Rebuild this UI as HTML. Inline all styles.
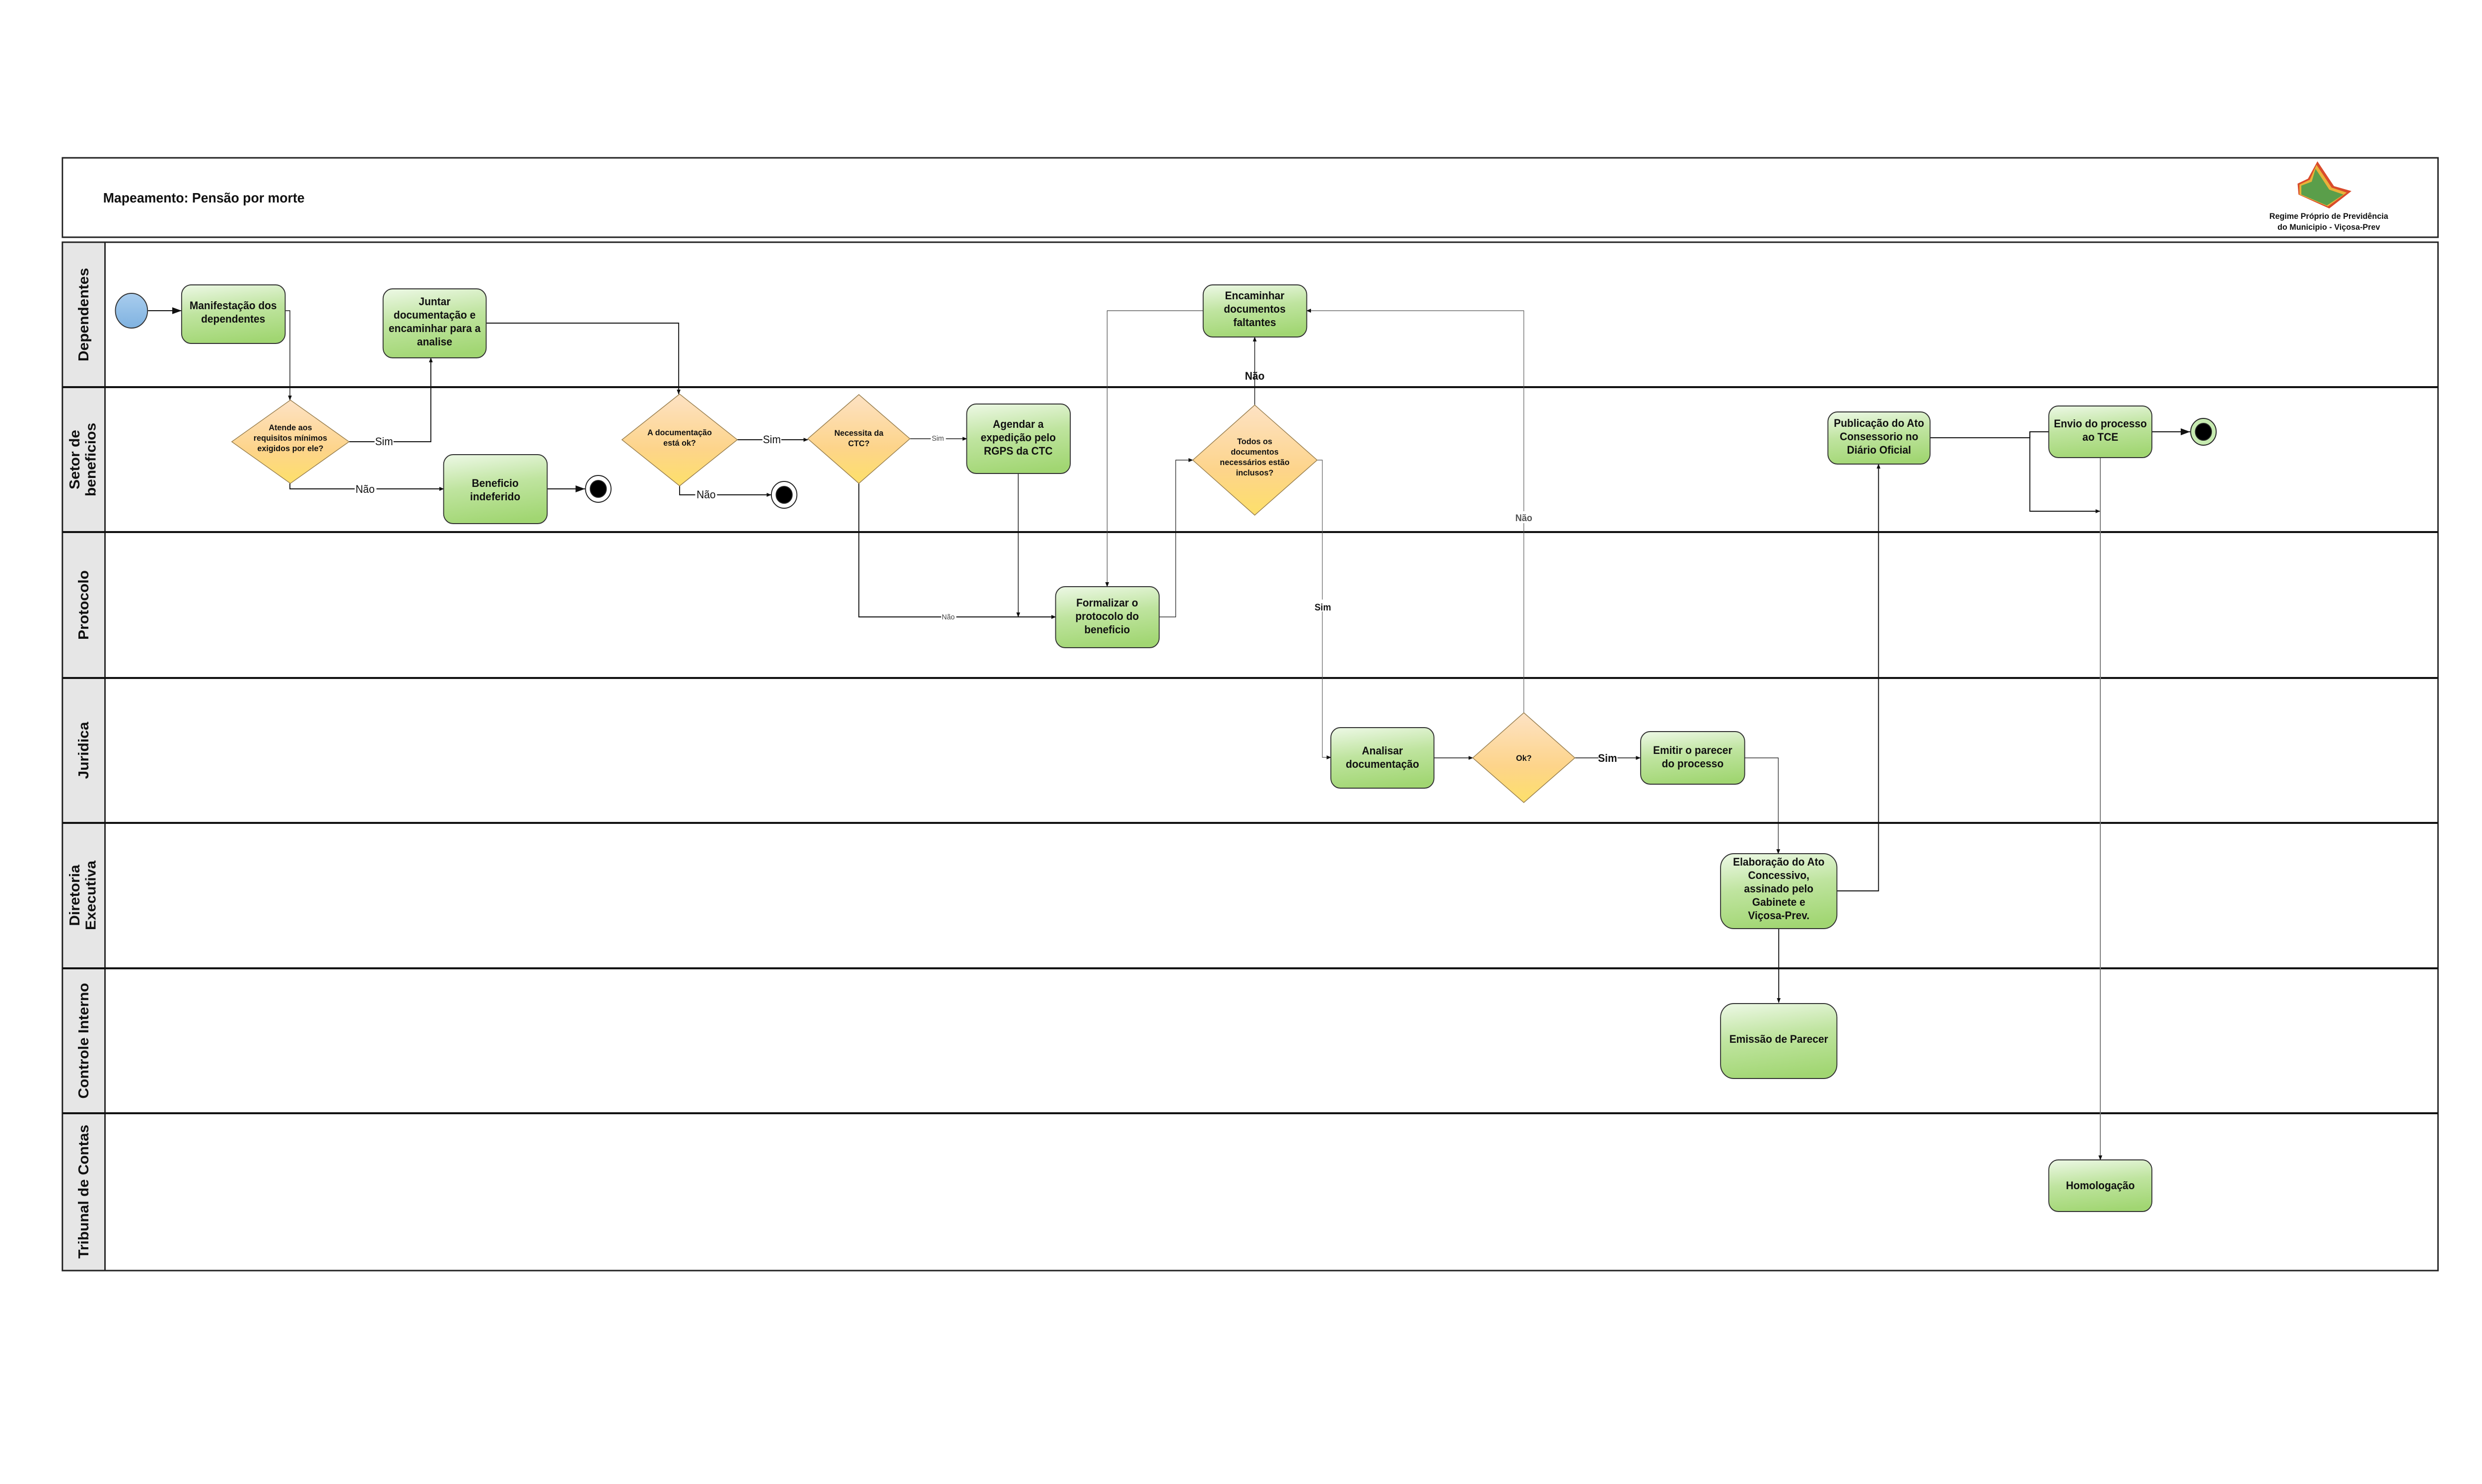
<!DOCTYPE html>
<html><head><meta charset="utf-8"><style>
html,body{margin:0;padding:0;background:#fff;overflow:hidden;width:100%;height:100%}
svg{display:block;width:100vw;height:100vh}
text{font-family:"Liberation Sans",sans-serif;font-weight:bold;fill:#111}
</style></head><body>
<svg viewBox="0 0 5248 2990" preserveAspectRatio="none" xmlns="http://www.w3.org/2000/svg">
<defs>
<linearGradient id="g" x1="0.3" y1="0" x2="0.5" y2="1"><stop offset="0" stop-color="#e8f6de"/><stop offset="0.45" stop-color="#bfe49f"/><stop offset="1" stop-color="#a1d672"/></linearGradient>
<linearGradient id="d" x1="0" y1="0" x2="0" y2="1"><stop offset="0" stop-color="#fde2c4"/><stop offset="0.6" stop-color="#fdd48a"/><stop offset="1" stop-color="#fde06a"/></linearGradient>
<linearGradient id="c" x1="0" y1="0" x2="0" y2="1"><stop offset="0" stop-color="#a9cdee"/><stop offset="1" stop-color="#7fb2e0"/></linearGradient>
<marker id="a" markerWidth="10" markerHeight="10" refX="9" refY="5" orient="auto" markerUnits="userSpaceOnUse" viewBox="0 0 10 10"><path d="M0,1 L10,5 L0,9z" fill="#111"/></marker>
<marker id="A" markerWidth="20" markerHeight="16" refX="20" refY="8" orient="auto" markerUnits="userSpaceOnUse"><path d="M0,1 L20,8 L0,15z" fill="#111"/></marker>
</defs>
<rect x="132" y="318" width="5023" height="160" fill="#fff" stroke="#222" stroke-width="3"/>
<text x="218" y="408" font-size="28">Mapeamento: Pensão por morte</text>
<path d="M4900,325 L4935,375 L4972,385 L4925,420 L4860,392 L4858,370 L4880,360z" fill="#d94b2b"/>
<path d="M4898,332 L4930,378 L4962,388 L4922,416 L4862,392 L4862,372 L4884,362z" fill="#e9b23a"/>
<path d="M4896,340 L4925,382 L4955,392 L4920,414 L4866,392 L4866,374 L4888,366z" fill="#5a9e4a"/>
<text x="4924" y="441" font-size="17" text-anchor="middle">Regime Próprio de Previdência</text>
<text x="4924" y="463" font-size="17" text-anchor="middle">do Municipio - Viçosa-Prev</text>
<rect x="132" y="488" width="5023" height="2072" fill="#fff" stroke="#222" stroke-width="3"/>
<rect x="132" y="488" width="90" height="2072" fill="#e6e6e6" stroke="#222" stroke-width="3"/>
<g stroke="#111" stroke-width="4">
<line x1="132" y1="780" x2="5155" y2="780"/><line x1="132" y1="1072" x2="5155" y2="1072"/>
<line x1="132" y1="1366" x2="5155" y2="1366"/><line x1="132" y1="1658" x2="5155" y2="1658"/>
<line x1="132" y1="1951" x2="5155" y2="1951"/><line x1="132" y1="2243" x2="5155" y2="2243"/>
</g>
<g font-size="30" text-anchor="middle">
<text transform="translate(187,634) rotate(-90)">Dependentes</text>
<text transform="translate(168,926) rotate(-90)">Setor de</text>
<text transform="translate(202,926) rotate(-90)">beneficios</text>
<text transform="translate(187,1219) rotate(-90)">Protocolo</text>
<text transform="translate(187,1512) rotate(-90)">Juridica</text>
<text transform="translate(168,1804) rotate(-90)">Diretoria</text>
<text transform="translate(202,1804) rotate(-90)">Executiva</text>
<text transform="translate(187,2097) rotate(-90)">Controle Interno</text>
<text transform="translate(187,2401) rotate(-90)">Tribunal de Contas</text>
</g>
<g fill="none" stroke="#111" stroke-width="2">
<path d="M313,626 H384" marker-end="url(#A)"/>
<path d="M603,626 H613 V806" stroke-width="1.5" marker-end="url(#a)"/>
<path d="M738,890 H911 V721" marker-end="url(#a)"/>
<path d="M613,974 V985 H938" marker-end="url(#a)"/>
<path d="M1157,985 H1237" marker-end="url(#A)"/>
<path d="M1028,651 H1435 V794" marker-end="url(#a)"/>
<path d="M1559,886 H1708" marker-end="url(#a)"/>
<path d="M1437,979 V997 H1630" marker-end="url(#a)"/>
<path d="M1924,884 H2044" stroke-width="1.5" marker-end="url(#a)"/>
<path d="M1816,974 V1243 H2232" marker-end="url(#a)"/>
<path d="M2153,954 V1243" stroke-width="1.5" marker-end="url(#a)"/>
<path d="M2544,626 H2341 V1182" stroke-width="1.2" stroke="#444" marker-end="url(#a)"/>
<path d="M2451,1243 H2486 V927 H2522" stroke-width="1.2" marker-end="url(#a)"/>
<path d="M2653,816 V679" stroke-width="1.5" marker-end="url(#a)"/>
<path d="M2785,927 H2796 V1526 H2814" stroke-width="1.2" stroke="#555" marker-end="url(#a)"/>
<path d="M3032,1527 H3114" stroke-width="1.5" marker-end="url(#a)"/>
<path d="M3222,1436 V626 H2763" stroke-width="1.2" stroke="#555" marker-end="url(#a)"/>
<path d="M3330,1527 H3468" stroke-width="1.5" marker-end="url(#a)"/>
<path d="M3689,1527 H3760 V1720" stroke-width="1.2" marker-end="url(#a)"/>
<path d="M3884,1795 H3972 V935" stroke-width="2" marker-end="url(#a)"/>
<path d="M3761,1871 V2020" stroke-width="2" marker-end="url(#a)"/>
<path d="M4081,882 H4292 V870 H4332"/>
<path d="M4292,870 V1030 H4440" marker-end="url(#a)"/>
<path d="M4550,870 H4631" marker-end="url(#A)"/>
<path d="M4441,922 V2337" stroke="#777" stroke-width="2" marker-end="url(#a)"/>
</g>
<g text-anchor="middle">
<rect x="792" y="876" width="40" height="26" fill="#fff"/><text x="812" y="897" font-size="22" style="font-weight:normal">Sim</text>
<rect x="750" y="972" width="46" height="26" fill="#fff"/><text x="772" y="993" font-size="22" style="font-weight:normal">Não</text>
<rect x="1612" y="872" width="40" height="26" fill="#fff"/><text x="1632" y="893" font-size="22" style="font-weight:normal">Sim</text>
<rect x="1470" y="984" width="46" height="26" fill="#fff"/><text x="1493" y="1004" font-size="22" style="font-weight:normal">Não</text>
<rect x="1968" y="874" width="32" height="18" fill="#fff"/><text x="1983" y="888" font-size="15" style="font-weight:normal;fill:#444">Sim</text>
<rect x="1990" y="1234" width="32" height="18" fill="#fff"/><text x="2005" y="1248" font-size="15" style="font-weight:normal;fill:#444">Não</text>
<text x="2653" y="765" font-size="22">Não</text>
<rect x="2780" y="1208" width="34" height="24" fill="#fff"/><text x="2797" y="1230" font-size="19">Sim</text>
<rect x="3204" y="1030" width="38" height="24" fill="#fff"/><text x="3222" y="1050" font-size="19" style="fill:#555">Não</text>
<rect x="3380" y="1514" width="40" height="26" fill="#fff"/><text x="3399" y="1535" font-size="22">Sim</text>
</g>
<ellipse cx="278" cy="626" rx="34" ry="35" fill="url(#c)" stroke="#333" stroke-width="2"/>
<g stroke="#222" stroke-width="2">
<circle cx="1265" cy="985" r="27" fill="#fff"/><circle cx="1265" cy="985" r="17" fill="#000"/>
<circle cx="1658" cy="997" r="27" fill="#fff"/><circle cx="1658" cy="997" r="17" fill="#000"/>
<circle cx="4659" cy="870" r="27" fill="#c6eab0"/><circle cx="4659" cy="870" r="17" fill="#000"/>
</g>
<g fill="url(#g)" stroke="#333" stroke-width="2">
<rect x="384" y="574" width="219" height="118" rx="20"/>
<rect x="810" y="582" width="218" height="139" rx="20"/>
<rect x="938" y="916" width="219" height="139" rx="20"/>
<rect x="2044" y="814" width="219" height="140" rx="20"/>
<rect x="2544" y="574" width="219" height="105" rx="20"/>
<rect x="2232" y="1182" width="219" height="123" rx="20"/>
<rect x="2814" y="1466" width="218" height="122" rx="20"/>
<rect x="3469" y="1474" width="220" height="106" rx="20"/>
<rect x="3638" y="1720" width="246" height="151" rx="28"/>
<rect x="3638" y="2022" width="246" height="151" rx="28"/>
<rect x="4332" y="2337" width="218" height="104" rx="20"/>
<rect x="3865" y="830" width="216" height="105" rx="20"/>
<rect x="4332" y="818" width="218" height="104" rx="20"/>
</g>
<g fill="url(#d)" stroke="#9a8050" stroke-width="1.5">
<polygon points="614,806 738,890 614,974 490,890"/>
<polygon points="1437,794 1559,886 1437,979 1315,886"/>
<polygon points="1816,795 1924,884 1816,974 1708,884"/>
<polygon points="2653,816 2785,927 2653,1038 2522,927"/>
<polygon points="3222,1436 3330,1527 3222,1617 3114,1527"/>
</g>
<g text-anchor="middle" font-size="22">
<text x="493" y="623">Manifestação dos</text><text x="493" y="650">dependentes</text>
<text x="919" y="615">Juntar</text><text x="919" y="642">documentação e</text><text x="919" y="669">encaminhar para a</text><text x="919" y="696">analise</text>
<text x="1047" y="981">Beneficio</text><text x="1047" y="1008">indeferido</text>
<text x="2153" y="862">Agendar a</text><text x="2153" y="889">expedição pelo</text><text x="2153" y="916">RGPS da CTC</text>
<text x="2653" y="603">Encaminhar</text><text x="2653" y="630">documentos</text><text x="2653" y="657">faltantes</text>
<text x="2341" y="1222">Formalizar o</text><text x="2341" y="1249">protocolo do</text><text x="2341" y="1276">beneficio</text>
<text x="2923" y="1520">Analisar</text><text x="2923" y="1547">documentação</text>
<text x="3579" y="1519">Emitir o parecer</text><text x="3579" y="1546">do processo</text>
<text x="3761" y="1744">Elaboração do Ato</text><text x="3761" y="1771">Concessivo,</text><text x="3761" y="1798">assinado pelo</text><text x="3761" y="1825">Gabinete e</text><text x="3761" y="1852">Viçosa-Prev.</text>
<text x="3761" y="2101">Emissão de Parecer</text>
<text x="4441" y="2396">Homologação</text>
<text x="3973" y="860">Publicação do Ato</text><text x="3973" y="887">Consessorio no</text><text x="3973" y="914">Diário Oficial</text>
<text x="4441" y="861">Envio do processo</text><text x="4441" y="888">ao TCE</text>
</g>
<g text-anchor="middle" font-size="17">
<text x="614" y="867">Atende aos</text><text x="614" y="888">requisitos mínimos</text><text x="614" y="909">exigidos por ele?</text>
<text x="1437" y="877">A documentação</text><text x="1437" y="898">está ok?</text>
<text x="1816" y="878">Necessita da</text><text x="1816" y="899">CTC?</text>
<text x="2653" y="895">Todos os</text><text x="2653" y="916">documentos</text><text x="2653" y="937">necessários estão</text><text x="2653" y="958">inclusos?</text>
<text x="3222" y="1533">Ok?</text>
</g>
</svg>
</body></html>
